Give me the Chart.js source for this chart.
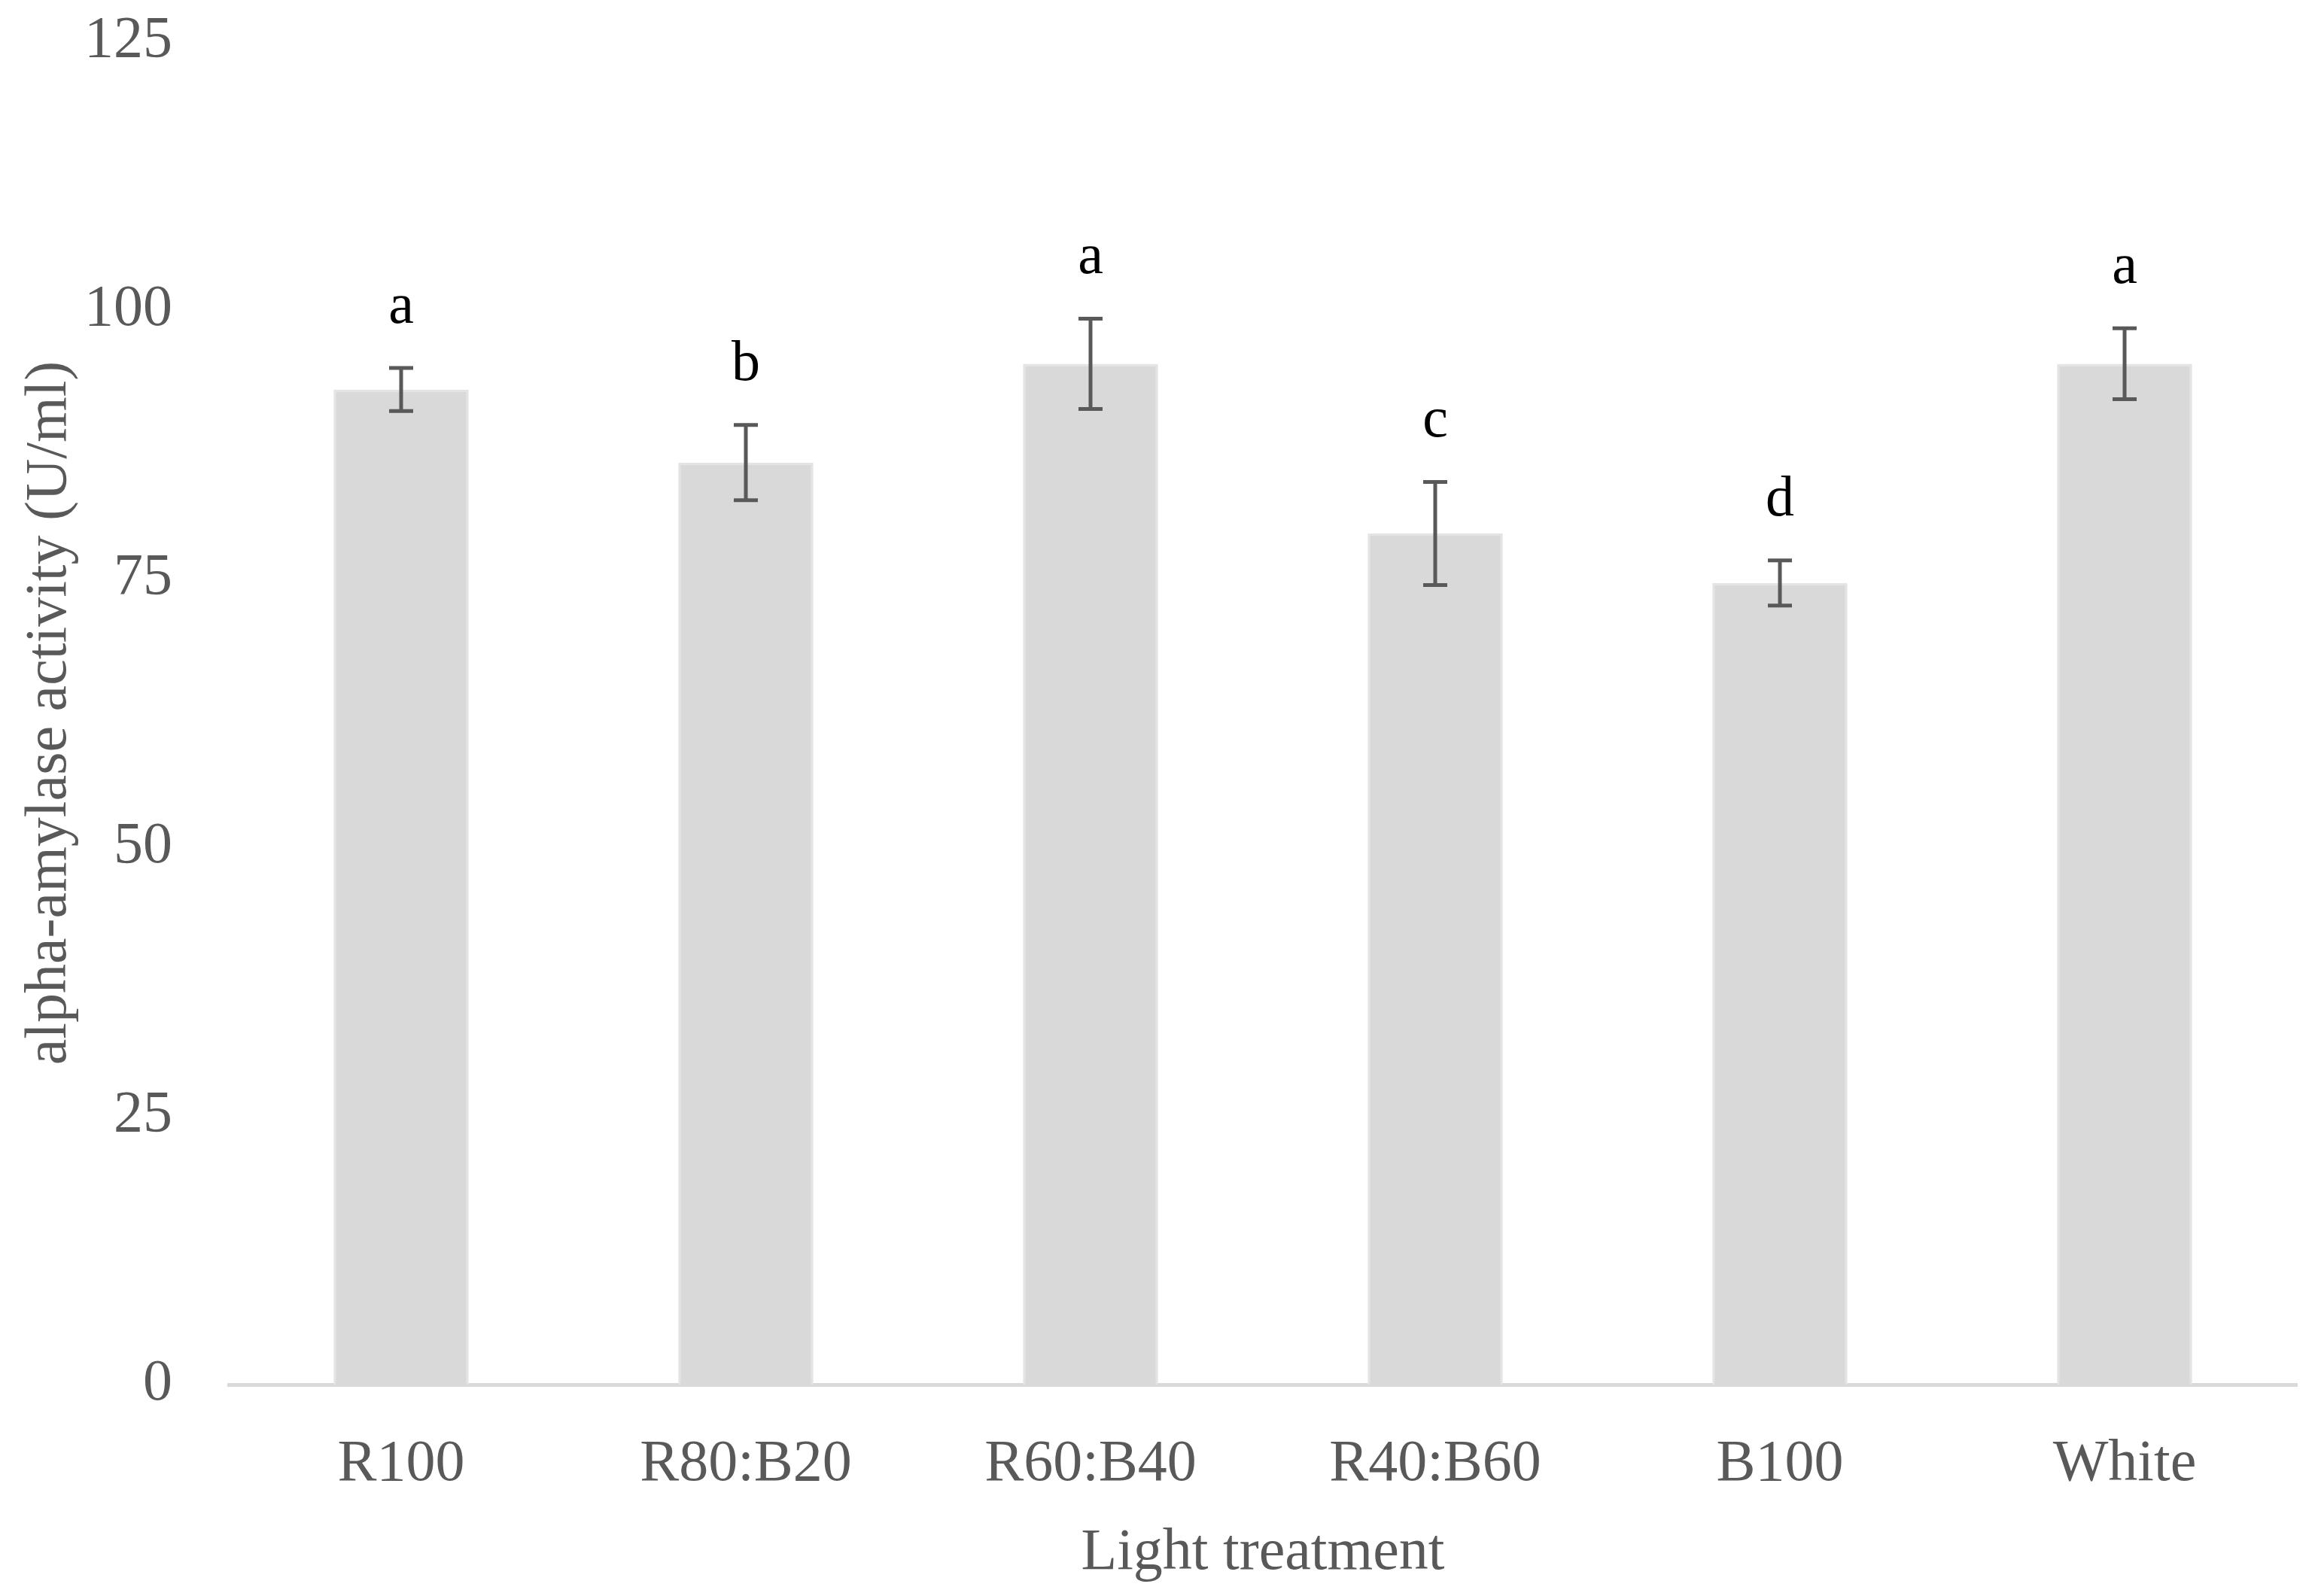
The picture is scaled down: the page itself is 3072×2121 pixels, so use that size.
<!DOCTYPE html>
<html>
<head>
<meta charset="utf-8">
<script src="https://cdn.jsdelivr.net/npm/chart.js@4"></script>
<style>
  html, body { margin: 0; padding: 0; background: #fff; }
  canvas { display: block; }
</style>
</head>
<body>
<canvas id="chart" width="3072" height="2121" style="width:3072px;height:2121px"></canvas>
<script>
// data
const treatments = ["R100", "R80:B20", "R60:B40", "R40:B60", "B100", "White"];
const activity = [92.6, 85.8, 95.0, 79.2, 74.6, 95.0];
const errors = [2.0, 3.5, 4.2, 4.8, 2.1, 3.3];
const letters = ["a", "b", "a", "c", "d", "a"];
const yTicks = [0, 25, 50, 75, 100, 125];

const FONT = "'Liberation Serif', 'DejaVu Serif', serif";

// error bars + significance letters
const errorBarPlugin = {
    id: "errorBars",
    afterDatasetsDraw(chart) {
        const ctx = chart.ctx;
        const x = chart.scales.x;
        const y = chart.scales.y;
        ctx.save();
        activity.forEach((v, i) => {
            const cx = x.getPixelForValue(i);
            const top = y.getPixelForValue(v + errors[i]);
            const bot = y.getPixelForValue(v - errors[i]);
            ctx.strokeStyle = "#595959";
            ctx.lineWidth = 5;
            ctx.beginPath();
            ctx.moveTo(cx, top);
            ctx.lineTo(cx, bot);
            ctx.moveTo(cx - 16, top);
            ctx.lineTo(cx + 16, top);
            ctx.moveTo(cx - 16, bot);
            ctx.lineTo(cx + 16, bot);
            ctx.stroke();

            ctx.fillStyle = "#000";
            ctx.font = "76px " + FONT;
            ctx.textAlign = "center";
            ctx.textBaseline = "alphabetic";
            ctx.fillText(letters[i], cx, top - 60);
        });
        ctx.restore();
    }
};

new Chart(document.getElementById("chart").getContext("2d"), {
    type: "bar",
    data: {
        labels: treatments,
        datasets: [{
            data: activity,
            backgroundColor: "#d9d9d9",
            borderColor: "#e4e4e4",
            borderWidth: 3,
            barPercentage: 0.392,
            categoryPercentage: 1.0
        }]
    },
    options: {
        responsive: false,
        devicePixelRatio: 1,
        animation: false,
        layout: { padding: { left: 20, right: 20, top: 55, bottom: 10 } },
        plugins: {
            legend: { display: false },
            tooltip: { enabled: false }
        },
        scales: {
            x: {
                grid: { display: false, drawTicks: false },
                border: { display: true, color: "#d9d9d9", width: 5 },
                ticks: { color: "#595959", font: { family: FONT, size: 78 }, padding: 60 },
                title: {
                    display: true,
                    text: "Light treatment",
                    color: "#595959",
                    font: { family: FONT, size: 78 },
                    padding: { top: 0, bottom: 0 }
                },
                afterFit: (scale) => { scale.height = 271; }
            },
            y: {
                min: 0,
                max: 125,
                afterBuildTicks: (scale) => { scale.ticks = yTicks.map(v => ({ value: v })); },
                grid: { display: false, drawTicks: false },
                border: { display: false },
                ticks: { color: "#595959", font: { family: FONT, size: 78 }, padding: 75 },
                title: {
                    display: true,
                    text: "alpha-amylase activity (U/ml)",
                    color: "#595959",
                    font: { family: FONT, size: 78 },
                    padding: { top: 0, bottom: 0 }
                },
                afterFit: (scale) => {
                    scale.width = 284;
                    scale.paddingTop = 0;
                    scale.paddingBottom = 0;
                }
            }
        }
    },
    plugins: [errorBarPlugin]
});
</script>
</body>
</html>
